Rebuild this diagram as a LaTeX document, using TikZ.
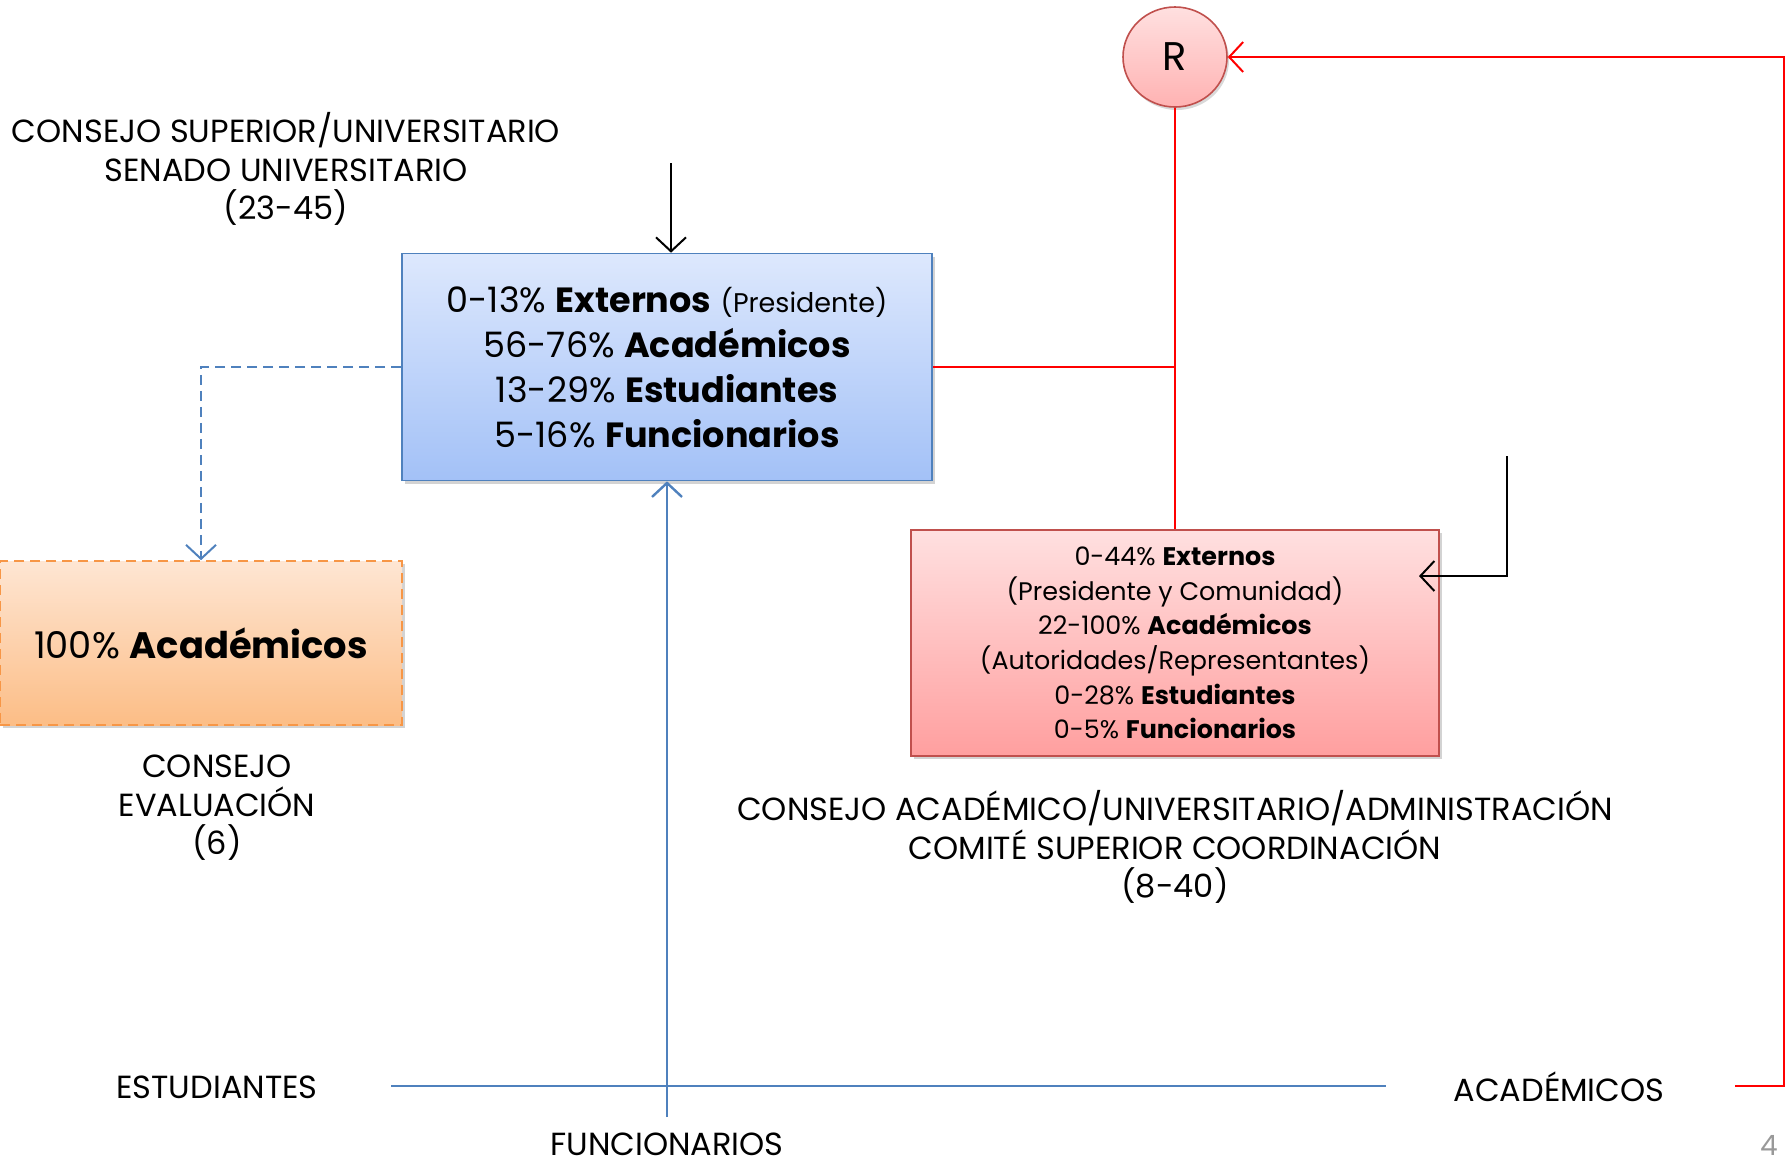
\documentclass[tikz,border=0pt]{standalone}
\usepackage{fontspec}
\setmainfont{Poppins}
\usetikzlibrary{arrows.meta,shadows,shapes.geometric}

\definecolor{azulborde}{HTML}{4F81BD}
\definecolor{azularriba}{HTML}{DDE8FD}
\definecolor{azulabajo}{HTML}{A3C1F7}
\definecolor{rojoborde}{HTML}{C0504D}
\definecolor{rojoarriba}{HTML}{FFE0E0}
\definecolor{rojoabajo}{HTML}{FF9F9F}
\definecolor{naranjaborde}{HTML}{F79646}
\definecolor{naranjaarriba}{HTML}{FEE6D3}
\definecolor{naranjaabajo}{HTML}{FCBD86}

\tikzset{
  caja/.style={rectangle, align=center, inner sep=0pt,
    drop shadow={shadow xshift=1.5pt, shadow yshift=-1.5pt, opacity=.35}},
  etiqueta/.style={align=center, inner sep=0pt, font=\fontsize{16}{19.2}\selectfont},
  flecha/.style={-{Straight Barb[length=7pt,width=15pt]}},
  trazos/.style={dash pattern=on 5pt off 3pt},
}

\begin{document}
\begin{tikzpicture}[x=0.5pt, y=-0.5pt]
\useasboundingbox (0,0) rectangle (1787,1164);

% cajas
\node [caja, draw=azulborde, line width=0.8pt, top color=azularriba, bottom color=azulabajo,
       minimum width=265pt, minimum height=113.5pt,
       font=\fontsize{17.5}{22.5}\selectfont] (azul) at (667,367)
  {0-13\% \textbf{Externos} {\fontsize{13.5}{16}\selectfont(Presidente)}\\
   56-76\% \textbf{Académicos}\\
   13-29\% \textbf{Estudiantes}\\
   5-16\% \textbf{Funcionarios}};
\node [caja, draw=rojoborde, line width=0.8pt, top color=rojoarriba, bottom color=rojoabajo,
       minimum width=264pt, minimum height=113pt,
       font=\fontsize{12.7}{17.3}\selectfont] (rojo) at (1175,643)
  {0-44\% \textbf{Externos}\\
   (Presidente y Comunidad)\\
   22-100\% \textbf{Académicos}\\
   (Autoridades/Representantes)\\
   0-28\% \textbf{Estudiantes}\\
   0-5\% \textbf{Funcionarios}};
\node [caja, draw=naranjaborde, trazos, line width=0.8pt, top color=naranjaarriba, bottom color=naranjaabajo,
       minimum width=201pt, minimum height=82pt,
       font=\fontsize{18.4}{21}\selectfont] (naranja) at (201,643)
  {100\% \textbf{Académicos}};
\node [ellipse, draw=rojoborde, line width=0.8pt, top color=rojoarriba, bottom color=rojoabajo!80,
       minimum width=52pt, minimum height=50pt, inner sep=0pt,
       drop shadow={shadow xshift=1pt, shadow yshift=-1.5pt, opacity=.3},
       font=\fontsize{20}{21}\selectfont] (R) at (1175,57) {R};

% etiquetas
\node [etiqueta] (superior) at (286,169)
  {CONSEJO SUPERIOR/UNIVERSITARIO\\ SENADO UNIVERSITARIO\\ (23-45)};
\node [etiqueta] (evaluacion) at (217,808) {CONSEJO\\ EVALUACIÓN\\ (6)};
\node [etiqueta] (academico) at (1175,847)
  {CONSEJO ACADÉMICO/UNIVERSITARIO/ADMINISTRACIÓN\\ COMITÉ SUPERIOR COORDINACIÓN\\ (8-40)};
\node [etiqueta] (estudiantes) at (217,1087) {ESTUDIANTES};
\node [etiqueta] (funcionarios) at (667,1144) {FUNCIONARIOS};
\node [etiqueta] (academicos) at (1559,1087) {ACADÉMICOS};
\node [etiqueta, text=gray!80, font=\fontsize{14}{16}\selectfont] (pagina) at (1769,1145) {4};

% puntos libres
\coordinate (arriba) at (671,163);
\coordinate (derecha) at (1507,456);
\coordinate (entrada) at (1419,576);
\coordinate (ejeizq) at (391,1086);
\coordinate (ejeder) at (1386,1086);
\coordinate (ejeabajo) at (667,1117);
\coordinate (rojoini) at (1735,1086);

% conectores
\draw [red, line width=1pt] (R.south) -- (rojo.north);
\draw [red, line width=1pt] (azul.east) -- (azul.east -| R.south);
\draw [red, line width=1pt, flecha] (rojoini) -- ++(49,0) |- (R.east);
\draw [black, line width=1pt, flecha] (arriba) -- (arriba |- azul.north);
\draw [black, line width=1pt, flecha] (derecha) |- (entrada);
\draw [azulborde, line width=1.2pt] (ejeizq) -- (ejeder);
\draw [azulborde, line width=1.2pt, flecha] (ejeabajo) -- (azul.south);
\draw [azulborde, line width=1pt, trazos, flecha] (azul.west) -| (naranja.north);
\end{tikzpicture}
\end{document}
